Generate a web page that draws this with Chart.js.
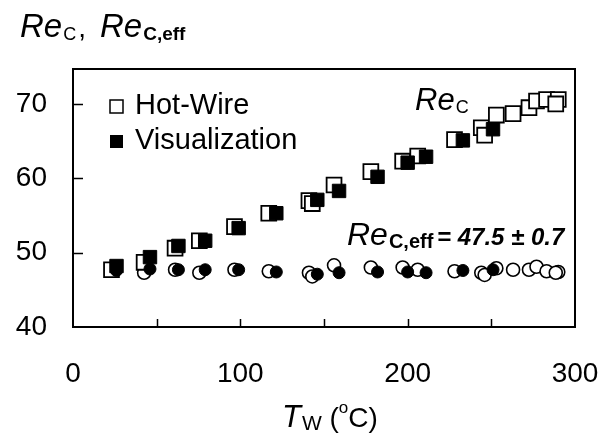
<!DOCTYPE html>
<html>
<head>
<meta charset="UTF-8">
<title>Re_c vs T_w</title>
<script src="https://cdn.jsdelivr.net/npm/chart.js@4.4.1/dist/chart.umd.min.js"></script>
<style>
  body { margin: 0; background: #fff; }
  #wrap { width: 612px; height: 434px; }
</style>
</head>
<body>
<div id="wrap"><canvas id="c"></canvas></div>
<script>
// hot-wire runs: wall temperature, critical Re, effective critical Re
const hwT      = [23, 42.5, 61, 75.5, 96.5, 117, 141, 143, 156, 178, 197, 206, 228, 244, 246, 253, 263, 272.5, 277, 283, 290, 288.5];
const hwRec    = [47.7, 48.7, 50.6, 51.6, 53.5, 55.3, 57.0, 56.6, 59.1, 60.9, 62.3, 63.0, 65.2, 66.8, 65.8, 68.5, 68.7, 69.5, 70.4, 70.6, 70.6, 70.0];
const hwRecEff = [47.6, 47.3, 47.7, 47.3, 47.7, 47.5, 47.3, 46.8, 48.3, 48.0, 48.0, 47.7, 47.5, 47.3, 47.0, 47.9, 47.7, 47.7, 48.1, 47.5, 47.4, 47.3];

// visualization runs
const visT      = [26, 46, 63, 79, 99, 121.5, 146, 159, 182, 200, 211, 233, 251];
const visRec    = [48.2, 49.4, 50.9, 51.6, 53.3, 55.3, 57.1, 58.3, 60.2, 62.1, 62.9, 65.1, 66.6];
const visRecEff = [47.6, 47.8, 47.7, 47.7, 47.7, 47.4, 47.1, 47.3, 47.4, 47.4, 47.3, 47.6, 47.7];

const xTicks = [0, 100, 200, 300];
const yTicks = [40, 50, 60, 70];

const FONT = '"Liberation Sans", Arial, sans-serif';

const pts = (xs, ys) => xs.map((v, i) => ({ x: v, y: ys[i] }));

// draw a text run and return where the next one starts
function txt(ctx, s, x, y, font) {
  ctx.font = font;
  ctx.fillText(s, x, y);
  return x + ctx.measureText(s).width;
}

const decor = {
  id: 'decor',
  beforeDatasetsDraw(chart) {
    const { ctx, chartArea: a, scales: { x, y } } = chart;
    ctx.save();
    ctx.strokeStyle = '#000';
    ctx.lineWidth = 2;
    ctx.strokeRect(a.left, a.top, a.right - a.left, a.bottom - a.top);
    ctx.lineWidth = 1.5;
    ctx.beginPath();
    for (let v = 50; v < 300; v += 50) {
      const px = Math.round(x.getPixelForValue(v)) + 0.5;
      ctx.moveTo(px, a.bottom); ctx.lineTo(px, a.bottom - 8);
    }
    yTicks.slice(1).forEach(v => {
      const py = Math.round(y.getPixelForValue(v)) + 0.5;
      ctx.moveTo(a.left, py); ctx.lineTo(a.left + 10, py);
    });
    ctx.stroke();
    ctx.restore();
  },
  afterDraw(chart) {
    const { ctx } = chart;
    ctx.save();
    ctx.fillStyle = '#000';
    ctx.textBaseline = 'alphabetic';
    let p;

    // y title
    p = txt(ctx, 'Re', 20, 37, 'italic 33px ' + FONT);
    p = txt(ctx, 'C', p + 1, 40, '18px ' + FONT);
    txt(ctx, ',', p + 2, 37, '28px ' + FONT);
    p = txt(ctx, 'Re', 100, 37, 'italic 33px ' + FONT);
    txt(ctx, 'C,eff', p + 1, 40, 'bold 19px ' + FONT);

    // x title
    p = txt(ctx, 'T', 282, 427, 'italic 31px ' + FONT);
    p = txt(ctx, 'W', p + 1, 430, '21px ' + FONT);
    p = txt(ctx, ' (', p, 427, '28px ' + FONT);
    p = txt(ctx, 'o', p, 413, '17px ' + FONT);
    txt(ctx, 'C)', p, 427, '28px ' + FONT);

    // curve labels
    p = txt(ctx, 'Re', 415, 110, 'italic 31px ' + FONT);
    txt(ctx, 'C', p + 1, 113, '18px ' + FONT);
    p = txt(ctx, 'Re', 347, 245, 'italic 32px ' + FONT);
    txt(ctx, 'C,eff', p + 1, 248, 'bold 20px ' + FONT);
    txt(ctx, '= 47.5 \u00b1 0.7', 437, 245, 'bold italic 24px ' + FONT);

    // legend
    ctx.lineWidth = 1.5;
    ctx.strokeStyle = '#000';
    ctx.fillStyle = '#fff';
    ctx.fillRect(110, 100, 13, 13);
    ctx.strokeRect(110, 100, 13, 13);
    ctx.fillStyle = '#000';
    ctx.fillRect(110, 135, 13, 13);
    ctx.textBaseline = 'middle';
    txt(ctx, 'Hot-Wire', 135, 106, '29px ' + FONT);
    txt(ctx, 'Visualization', 135, 141, '29px ' + FONT);
    ctx.restore();
  }
};

new Chart(document.getElementById('c'), {
  type: 'scatter',
  data: {
    datasets: [
      { label: 'Visualization Re_c', data: pts(visT, visRec), pointStyle: 'rect', pointRadius: 9.5,
        backgroundColor: '#000', borderColor: '#000', borderWidth: 1 },
      { label: 'Visualization Re_c,eff', data: pts(visT, visRecEff), pointStyle: 'circle', pointRadius: 6,
        backgroundColor: '#000', borderColor: '#000', borderWidth: 1 },
      { label: 'Hot-Wire Re_c', data: pts(hwT, hwRec), pointStyle: 'rect', pointRadius: 10.5,
        backgroundColor: '#fff', borderColor: '#000', borderWidth: 1.8 },
      { label: 'Hot-Wire Re_c,eff', data: pts(hwT, hwRecEff), pointStyle: 'circle', pointRadius: 6.5,
        backgroundColor: '#fff', borderColor: '#000', borderWidth: 1.6 }
    ]
  },
  options: {
    responsive: true,
    maintainAspectRatio: false,
    animation: false,
    layout: { padding: { top: 69, right: 37, left: 0, bottom: 0 } },
    plugins: { legend: { display: false }, tooltip: { enabled: false } },
    scales: {
      x: {
        min: 0, max: 300,
        afterBuildTicks: s => { s.ticks = xTicks.map(v => ({ value: v })); },
        afterFit: s => { s.height = 107; s.paddingLeft = 0; s.paddingRight = 0; },
        grid: { display: false, drawTicks: false },
        border: { display: false },
        ticks: { color: '#000', font: { family: FONT, size: 28 }, padding: 30, maxRotation: 0 }
      },
      y: {
        min: 40, max: 74.7,
        afterBuildTicks: s => { s.ticks = yTicks.map(v => ({ value: v })); },
        afterFit: s => { s.width = 73; s.paddingTop = 0; s.paddingBottom = 0; },
        grid: { display: false, drawTicks: false },
        border: { display: false },
        ticks: { color: '#000', font: { family: FONT, size: 28 }, padding: 26 }
      }
    }
  },
  plugins: [decor]
});
</script>
</body>
</html>
